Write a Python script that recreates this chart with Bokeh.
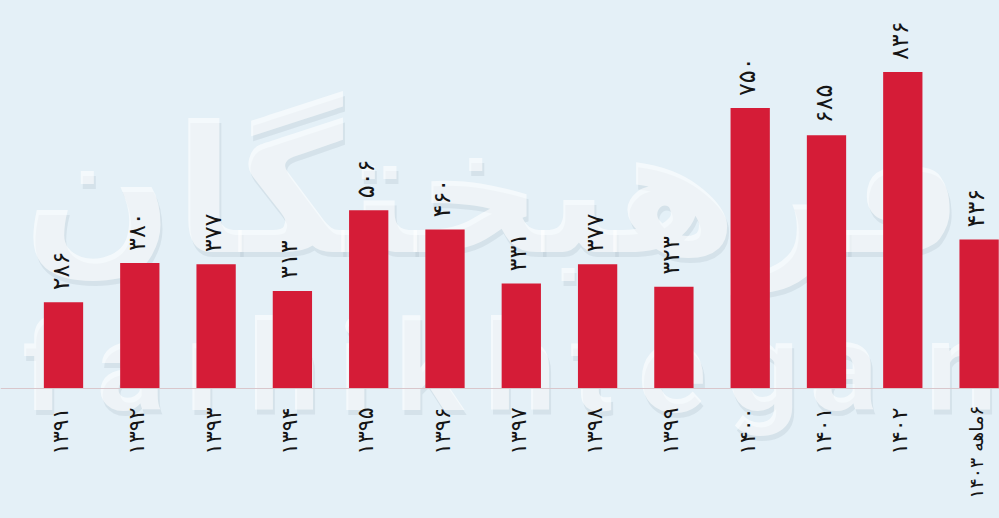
import math
from bokeh.plotting import figure
from bokeh.models import ColumnDataSource, Range1d, Span, Label, CDSView, IndexFilter
from bokeh.core.properties import value
from bokeh.embed import file_html
from bokeh.resources import INLINE

# ---- data ----
years = ["۱۳۹۱", "۱۳۹۲", "۱۳۹۳", "۱۳۹۴", "۱۳۹۵", "۱۳۹۶", "۱۳۹۷",
         "۱۳۹۸", "۱۳۹۹", "۱۴۰۰", "۱۴۰۱", "۱۴۰۲", "\u2067۶ماهه ۱۴۰۳\u2069"]
values = [286, 380, 377, 313, 506, 460, 331, 377, 323, 750, 685, 836, 436]

FA_DIGITS = "۰۱۲۳۴۵۶۷۸۹"
def to_fa(n):
    return "".join(FA_DIGITS[int(c)] for c in str(n))

value_labels = [to_fa(v) for v in values]

BASE = 80  # baseline value of the visible axis
BG = "#e4f0f7"
BAR = "#d51c37"

x = list(range(len(values)))
src = ColumnDataSource(dict(x=x, top=values, vlab=value_labels, year=years,
                            base=[BASE] * len(values)))

W, H = 999, 518
px_x = 76.3
x0 = -63.0 / px_x
s = 0.4186
base_px = 388

p = figure(width=W, height=H, output_backend="svg", toolbar_location=None,
           x_range=Range1d(x0, x0 + W / px_x),
           y_range=Range1d(BASE - (H - base_px) / s, BASE + base_px / s),
           min_border=0, min_border_left=0, min_border_right=0,
           min_border_top=0, min_border_bottom=0)
p.axis.visible = False
p.grid.visible = False
p.outline_line_color = None
p.background_fill_color = BG
p.border_fill_color = BG

# ---- watermark (decoration) ----
WM_FA = "فرهیختگان"
WM_EN = "farhikhtegan"
wm_en_left = [22, 96, 185, 248, 338, 395, 484, 570, 637, 726, 809, 925]

def wm(text, xs, ys, size, font):
    p.add_layout(Label(x=xs + 2, y=ys - 5, x_units="screen", y_units="screen",
                       text=text, text_font=font, text_font_style="bold",
                       text_font_size=size, text_color="#9fb2bf",
                       text_alpha=0.22, text_baseline="alphabetic",
                       level="underlay"))
    p.add_layout(Label(x=xs, y=ys, x_units="screen", y_units="screen",
                       text=text, text_font=font, text_font_style="bold",
                       text_font_size=size, text_color="white", text_alpha=0.6,
                       text_baseline="alphabetic", level="underlay"))

wm(WM_FA, 22, 328, "177px", "DejaVu Sans")
for ch, lx in zip(WM_EN, wm_en_left):
    wm(ch, lx, 152, "127px", "Roboto")

p.vbar(x="x", top="top", bottom="base", width=0.515, source=src,
       fill_color=BAR, line_color=None)

p.add_layout(Span(location=BASE, dimension="width", line_color="#d9c6cb",
                  line_width=1))

p.text(x="x", y="top", text="vlab", source=src, angle=math.pi / 2,
       text_align="left", text_baseline="middle", y_offset=-12, x_offset=-3,
       text_font=value("DejaVu Sans"),
       text_font_size="24px", text_color="#151515")

n = len(years)
p.text(x="x", y="base", text="year", source=src,
       view=CDSView(filter=IndexFilter(list(range(n - 1)))),
       angle=math.pi / 2, text_align="right", text_baseline="middle",
       y_offset=19, x_offset=-3, text_font=value("DejaVu Sans"),
       text_font_size="22px", text_color="#151515")
p.text(x="x", y="base", text="year", source=src,
       view=CDSView(filter=IndexFilter([n - 1])),
       angle=math.pi / 2, text_align="right", text_baseline="middle",
       y_offset=17, x_offset=-3, text_font=value("DejaVu Sans"),
       text_font_size="19px", text_color="#151515")

html = file_html(p, INLINE)
html = html.replace("</head>", "<style>html,body{background:%s;}</style></head>" % BG)
open("out.html", "w").write(html)
